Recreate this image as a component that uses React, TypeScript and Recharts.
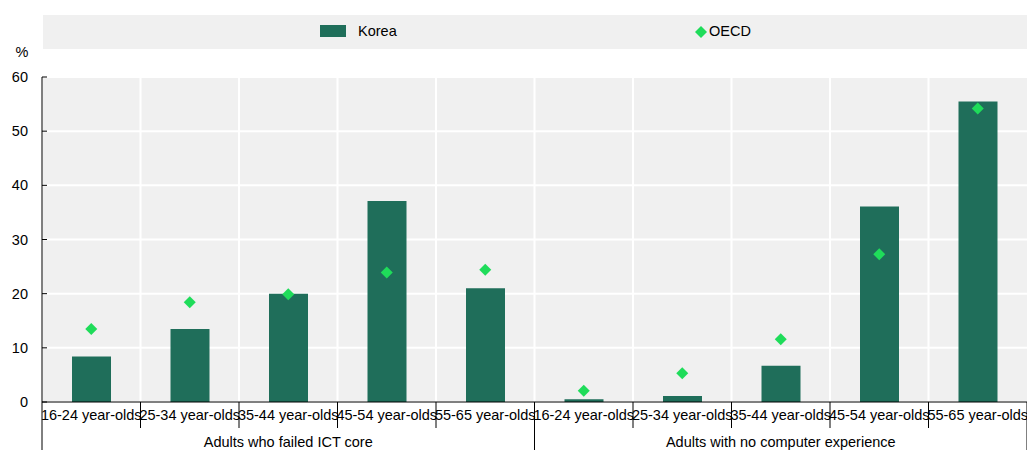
import React from "react";
import {
  ComposedChart,
  Bar,
  Line,
  XAxis,
  YAxis,
  CartesianGrid,
  Legend,
} from "recharts";

const ageGroups = [
  "16-24 year-olds",
  "25-34 year-olds",
  "35-44 year-olds",
  "45-54 year-olds",
  "55-65 year-olds",
];
const groups = ["Adults who failed ICT core", "Adults with no computer experience"];
const koreaFailedIct = [8.4, 13.5, 20.0, 37.1, 21.0];
const koreaNoComputer = [0.5, 1.1, 6.7, 36.1, 55.5];
const oecdFailedIct = [13.5, 18.4, 19.9, 23.9, 24.4];
const oecdNoComputer = [2.1, 5.3, 11.6, 27.3, 54.2];
const yTicks = [0, 10, 20, 30, 40, 50, 60];

const koreaByGroup = [koreaFailedIct, koreaNoComputer];
const oecdByGroup = [oecdFailedIct, oecdNoComputer];

const data = groups.flatMap((g, gi) =>
  ageGroups.map((age, ai) => ({
    id: `${gi}-${ai}`,
    age,
    group: g,
    Korea: koreaByGroup[gi][ai],
    OECD: oecdByGroup[gi][ai],
  }))
);

const W = 1027;
const H = 450;
const Y_AXIS_W = 42;
const X_AXIS_H = 48;
const TOP = 77;
const AXIS_Y = H - X_AXIS_H;
const BAND = (W - Y_AXIS_W) / data.length;
const FONT = '"Liberation Sans", Arial, sans-serif';
const BAR_COLOR = "#1f6e5a";
const DOT_COLOR = "#1fdc5a";

const XTick = (props: any) => {
  const { x, payload } = props;
  const i = payload.index;
  const item = data[i];
  const left = x - BAND / 2;
  const groupStart = i % ageGroups.length === 0;
  return (
    <g>
      <line x1={left} x2={left} y1={AXIS_Y} y2={groupStart ? H : AXIS_Y + 26} stroke="#000" />
      {i === data.length - 1 && (
        <line x1={left + BAND} x2={left + BAND} y1={AXIS_Y} y2={H} stroke="#000" />
      )}
      <text x={x} y={AXIS_Y + 18} textAnchor="middle" fontSize={14.5} fontFamily={FONT} fill="#000">
        {item.age}
      </text>
      {i % ageGroups.length === 2 && (
        <text x={x} y={AXIS_Y + 45} textAnchor="middle" fontSize={14.5} fontFamily={FONT} fill="#000">
          {item.group}
        </text>
      )}
    </g>
  );
};

const YTick = (props: any) => {
  const { y, payload } = props;
  return (
    <g>
      <line x1={Y_AXIS_W} x2={Y_AXIS_W + 5} y1={y} y2={y} stroke="#000" />
      <text x={28} y={y + 5} textAnchor="end" fontSize={14.5} fontFamily={FONT} fill="#000">
        {payload.value}
      </text>
    </g>
  );
};

const Diamond = (props: any) => {
  const { cx, cy, index } = props;
  if (cx == null || cy == null) return null;
  const r = 6;
  return (
    <path
      key={`d-${index}`}
      d={`M${cx},${cy - r}L${cx + r},${cy}L${cx},${cy + r}L${cx - r},${cy}Z`}
      fill={DOT_COLOR}
    />
  );
};

const LegendBand = () => (
  <div
    style={{
      width: W - 43,
      height: 34,
      background: "#f0f0f0",
      position: "relative",
      fontFamily: FONT,
      fontSize: 14.5,
      color: "#000",
    }}
  >
    <div style={{ position: "absolute", left: 277, top: 10, width: 26, height: 12, background: BAR_COLOR }} />
    <span style={{ position: "absolute", left: 315, top: 8 }}>Korea</span>
    <svg style={{ position: "absolute", left: 652, top: 11 }} width={12} height={12}>
      <path d="M6,0L12,6L6,12L0,6Z" fill={DOT_COLOR} />
    </svg>
    <span style={{ position: "absolute", left: 666, top: 8 }}>OECD</span>
  </div>
);

export default function App() {
  return (
    <div style={{ position: "absolute", left: 0, top: 0, width: W, height: H, background: "#fff" }}>
      <ComposedChart
        width={W}
        height={H}
        data={data}
        margin={{ top: TOP, right: 0, bottom: 0, left: 0 }}
        barCategoryGap="30%"
      >
        <CartesianGrid
          fill="#f0f0f0"
          stroke="#fff"
          strokeWidth={2}
          vertical
          horizontal
          verticalCoordinatesGenerator={({ offset }: any) =>
            data.map((_, i) => offset.left + i * (offset.width / data.length))
          }
        />
        <XAxis
          dataKey="id"
          interval={0}
          height={X_AXIS_H}
          tickLine={false}
          axisLine={{ stroke: "#000" }}
          tick={<XTick />}
        />
        <YAxis
          width={Y_AXIS_W}
          domain={[0, 60]}
          ticks={yTicks}
          tickLine={false}
          axisLine={{ stroke: "#000" }}
          tick={<YTick />}
          label={({ viewBox }: any) => (
            <text x={22} y={viewBox.y - 20} textAnchor="middle" fontSize={14.5} fontFamily={FONT} fill="#000">
              %
            </text>
          )}
        />
        <Legend
          verticalAlign="middle"
          layout="horizontal"
          content={<LegendBand />}
          wrapperStyle={{ top: 15, left: 43, width: W - 43, height: 34 }}
        />
        <Bar dataKey="Korea" fill={BAR_COLOR} barSize={39} isAnimationActive={false} />
        <Line
          dataKey="OECD"
          stroke="none"
          dot={<Diamond />}
          activeDot={false}
          isAnimationActive={false}
        />
      </ComposedChart>
    </div>
  );
}
